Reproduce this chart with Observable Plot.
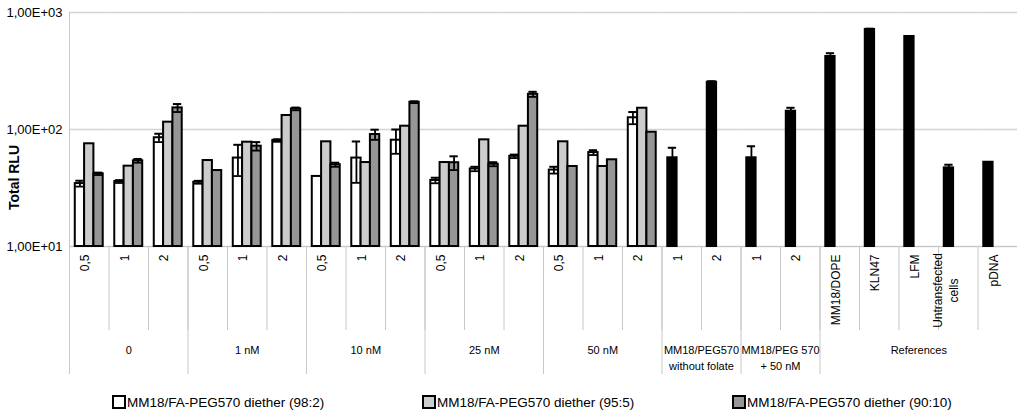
<!DOCTYPE html>
<html><head><meta charset="utf-8">
<script src="https://cdn.jsdelivr.net/npm/d3@7"></script>
<script src="https://cdn.jsdelivr.net/npm/@observablehq/plot@0.6"></script>
<style>
body{margin:0;background:#fff;font-family:"Liberation Sans",Arial,sans-serif;}
#chart{width:1024px;}
body .lg-swatches{font-family:"Liberation Sans",Arial,sans-serif;font-size:13.5px;color:#000;margin:0;min-height:24px;padding-left:113px;display:flex;align-items:center;flex-wrap:nowrap;}
body .lg-swatch{width:310px;margin:0;flex:none;display:inline-flex;align-items:center;}
body .lg-swatch:last-child{width:auto;}
body .lg-swatch > svg{margin-right:2px;overflow:visible;}
body .lg-swatch > svg rect{stroke:#000;stroke-width:2px;}
</style></head>
<body><div id="chart"></div>
<script>
// ---- data ----
const seriesNames = ["MM18/FA-PEG570 diether (98:2)", "MM18/FA-PEG570 diether (95:5)", "MM18/FA-PEG570 diether (90:10)"];
const seriesColors = ["#ffffff", "#cccccc", "#969696"];
const singleColor = "#000000";

const groupNames = ["0", "1 nM", "10 nM", "25 nM", "50 nM", "MM18/PEG570\nwithout folate", "MM18/PEG 570\n+ 50 nM", "References"];
const groupSlotLabels = [
  ["0,5", "1", "2"],
  ["0,5", "1", "2"],
  ["0,5", "1", "2"],
  ["0,5", "1", "2"],
  ["0,5", "1", "2"],
  ["1", "2"],
  ["1", "2"],
  ["MM18/DOPE", "KLN47", "LFM", "Untransfected\ncells", "pDNA"]
];

// grouped slots (groups 0 .. 50 nM)
const values98 = [34.5, 35.9, 85, 35.4, 57, 80.5, 39.7, 57, 81, 36.7, 46, 59, 45, 63.5, 126];
const err98    = [2, 1, 7, 1, 17, 2, 0, 22, 19, 2, 2, 2, 3, 3, 15];
const values95 = [75.5, 48.6, 115.5, 54.3, 77.9, 131.7, 78.5, 52.2, 106.7, 52.2, 81.6, 106.7, 78.5, 48.3, 152];
const err95    = [0, 0, 0, 0, 0, 0, 0, 0, 0, 0, 0, 0, 0, 0, 0];
const values90 = [41.8, 54, 153, 44.6, 72, 150, 50, 90.6, 171, 52, 50.5, 200, 48.3, 55.1, 94.8];
const err90    = [1, 2, 12, 0, 6, 4, 2, 9, 3, 7, 2, 10, 0, 0, 0];

// single-series slots (without folate, +50 nM, references)
const singleValues = [57.3, 253.7, 57.3, 143.3, 420.7, 715.6, 623.6, 47.0, 52.5];
const singleErr    = [12.5, 5, 14.6, 10, 28, 12, 0, 3, 0];

const yTicks = [10, 100, 1000];
const yTickLabels = ["1,00E+01", "1,00E+02", "1,00E+03"];

// ---- tables ----
const slots = [];
groupNames.forEach((g, gi) => groupSlotLabels[gi].forEach((lab, li) =>
  slots.push({id: gi + ":" + li, group: g, gi, li, label: lab})));
const slotIds = slots.map(s => s.id);

const nMulti = values98.length;
const grouped = [];
slots.slice(0, nMulti).forEach((s, i) => {
  [[values98, err98], [values95, err95], [values90, err90]].forEach(([v, e], k) =>
    grouped.push({slot: s.id, series: seriesNames[k], value: v[i], err: e[i]}));
});
const single = slots.slice(nMulti).map((s, i) =>
  ({slot: s.id, series: seriesNames[0], value: singleValues[i], err: singleErr[i]}));
const errRows = grouped.concat(single).filter(d => d.err > 0);

const groupAnchors = groupNames.map((g, gi) => {
  const ss = slots.filter(s => s.gi === gi);
  return {group: g, slot: ss[Math.floor((ss.length - 1) / 2)].id, even: ss.length % 2 === 0};
});
const groupStarts = slots.filter(s => s.li === 0);

// ---- layout ----
const W = 1024, H = 390, ML = 69, MR = 7, MT = 12, MB = 144;
const frameH = H - MT - MB;
const sepColor = "#c8c8c8";
const shortSep = -83, longSep = -127;

const chart = Plot.plot({
  width: W, height: H,
  marginLeft: ML, marginRight: MR, marginTop: MT, marginBottom: MB,
  style: {fontFamily: "'Liberation Sans', Arial, sans-serif", fontSize: "12px", color: "#000", background: "#fff"},
  fx: {domain: slotIds, padding: 0, round: false, axis: null},
  x: {domain: seriesNames, paddingInner: 0, paddingOuter: 0.62, round: false, axis: null},
  y: {type: "log", domain: [yTicks[0], yTicks[yTicks.length - 1]], axis: null},
  color: {domain: seriesNames, range: seriesColors},
  marks: [
    Plot.gridY({ticks: yTicks, stroke: "#d4d4d4", strokeOpacity: 1, strokeWidth: 1.5}),
    Plot.ruleY([yTicks[0]], {stroke: sepColor}),
    Plot.frame({anchor: "left", stroke: sepColor, insetTop: frameH, insetBottom: shortSep}),
    ...groupStarts.map((s, j) => Plot.frame({anchor: "left", fx: () => s.id, stroke: sepColor,
      insetTop: j === 0 ? 0 : frameH, insetBottom: longSep})),
    Plot.axisY({ticks: yTicks, tickFormat: d => yTickLabels[yTicks.indexOf(d)], tickSize: 0, tickPadding: 7, fontSize: 13, label: null}),
    Plot.text(["Total RLU"], {fx: () => slotIds[0], text: d => d, frameAnchor: "left", textAnchor: "middle", rotate: -90, dx: -55, dy: 48, fontSize: 14, fontWeight: "bold"}),
    Plot.barY(grouped, {fx: "slot", x: "series", y1: yTicks[0], y2: "value", fill: "series", stroke: "#000", strokeWidth: 2}),
    Plot.barY(single, {fx: "slot", x: "series", y1: yTicks[0], y2: "value", fill: singleColor, stroke: "#000", strokeWidth: 2}),
    Plot.ruleX(errRows, {fx: "slot", x: "series", y1: d => d.value - d.err, y2: d => d.value + d.err, stroke: "#000", strokeWidth: 1.8}),
    Plot.tickY(errRows, {fx: "slot", x: "series", y: d => d.value + d.err, stroke: "#000", strokeWidth: 2, inset: 0.5}),
    Plot.tickY(errRows, {fx: "slot", x: "series", y: d => d.value - d.err, stroke: "#000", strokeWidth: 1.8, inset: 0.5}),
    Plot.text(slots.filter(s => !s.label.includes("\n")), {fx: "id", text: "label", frameAnchor: "bottom", rotate: -90, textAnchor: "end", dy: 8, fontSize: 12}),
    Plot.text(slots.filter(s => s.label.includes("\n")), {fx: "id", text: "label", frameAnchor: "bottom", rotate: -90, textAnchor: "middle", dy: 44, lineHeight: 1.35, fontSize: 12}),
    Plot.text(groupAnchors.filter(d => !d.even), {fx: "slot", text: "group", frameAnchor: "bottom", textAnchor: "middle", lineAnchor: "top", dy: 96, lineHeight: 1.45, fontSize: 11}),
    Plot.text(groupAnchors.filter(d => d.even), {fx: "slot", text: "group", frameAnchor: "bottom-right", textAnchor: "middle", lineAnchor: "top", dy: 96, lineHeight: 1.45, fontSize: 11})
  ]
});
document.getElementById("chart").append(chart);

const legend = Plot.legend({
  color: {domain: seriesNames, range: seriesColors, legend: "swatches", swatchSize: 12, className: "lg"},
  swatchSize: 12, className: "lg"
});
document.getElementById("chart").append(legend);
</script>
</body></html>
